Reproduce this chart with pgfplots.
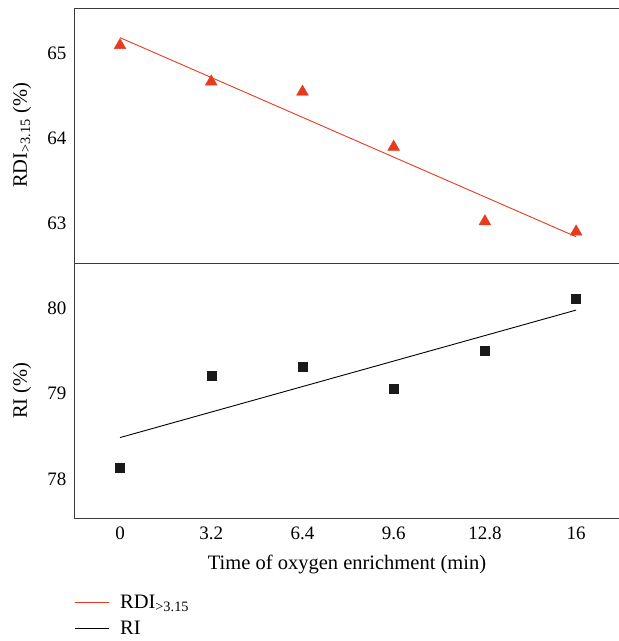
\documentclass[border=0pt]{standalone}
\usepackage{fontspec}
\setmainfont{Liberation Serif}
\usepackage{pgfplots}
\pgfplotsset{compat=1.18}
\definecolor{rdired}{HTML}{E63B1F}
\definecolor{frame}{HTML}{3A3A3A}
\newcommand{\lblfont}{\fontsize{20.5bp}{24bp}\selectfont}

\pgfplotsset{panel/.style={
  scale only axis, width=550bp, height=255bp,
  xmin=-1.614, xmax=17.68,
  axis line style={frame, line width=0.9bp},
  major tick length=0pt,
  xtick={0,3.2,6.4,9.6,12.8,16},
  /pgf/number format/assume math mode=true,
  tick label style={font=\fontsize{19bp}{22bp}\selectfont},
  yticklabel style={xshift=-4bp, yshift=-1.5bp},
  xticklabel style={yshift=-5bp},
  every axis y label/.style={at={(axis description cs:-0.0945,0.5)}, rotate=90, anchor=center,
    font=\lblfont},
  every axis x label/.style={at={(axis description cs:0.4964,0)}, anchor=center, yshift=-46bp,
    font=\lblfont},
}}

\begin{document}
\begin{tikzpicture}
\path[use as bounding box] (-74bp,8bp) rectangle ++(619bp,-641bp);
\begin{axis}[panel, at={(0,0)}, anchor=north west,
  ymin=62.51, ymax=65.52, ytick={63,64,65},
  xticklabels={},
  ylabel={RDI\textsubscript{>3.15} (\%)}]
\coordinate (BL) at (rel axis cs:0,0);
\addplot[rdired, line width=0.9bp] coordinates {(0,65.17) (16,62.82)};
\addplot[only marks, mark=triangle*, mark size=6.8bp, color=rdired] coordinates {
  (0,65.08) (3.2,64.65) (6.4,64.53) (9.6,63.88) (12.8,63.0) (16,62.88)
};
\end{axis}
\begin{axis}[panel, at={(BL)}, anchor=north west,
  ymin=77.53, ymax=80.51, ytick={78,79,80},
  xticklabels={0,3.2,6.4,9.6,12.8,16},
  xlabel={Time of oxygen enrichment (min)},
  ylabel={RI (\%)},
  legend style={at={(axis description cs:0,0)}, anchor=north west, yshift=-76bp,
    draw=none, fill=none, inner sep=0pt, font=\lblfont,
    row sep=9bp, column sep=10bp, nodes={inner sep=1bp}},
  legend cell align=left,
  legend image code/.code={\draw[#1] (0bp,0bp) -- (34bp,0bp);}]
\addlegendimage{rdired, line width=0.9bp}
\addlegendentry{RDI\textsubscript{>3.15}}
\addplot[black, line width=0.9bp] coordinates {(0,78.47) (16,79.96)};
\addlegendentry{RI}
\addplot[only marks, mark=square*, mark size=4.5bp, color=black!90, forget plot] coordinates {
  (0,78.12) (3.2,79.19) (6.4,79.30) (9.6,79.04) (12.8,79.49) (16,80.09)
};
\end{axis}
\end{tikzpicture}
\end{document}
